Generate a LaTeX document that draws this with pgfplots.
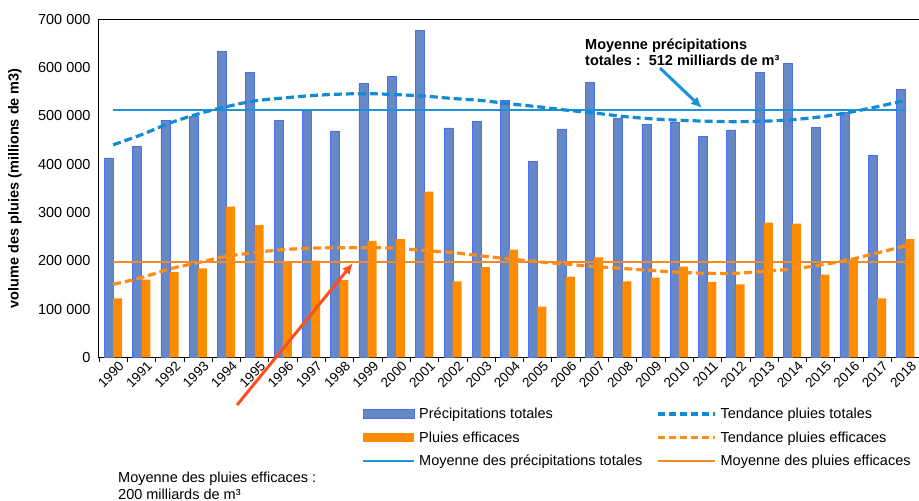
\documentclass[border=0pt]{standalone}
\usepackage{pgfplots}
\pgfplotsset{compat=1.18}
\usepackage{pgfplotstable}
\usepackage{fontspec}
\setmainfont{Liberation Sans}
\usetikzlibrary{arrows.meta}
\definecolor{barblue}{RGB}{102,136,198}
\definecolor{baredge}{RGB}{72,112,235}
\definecolor{barorange}{RGB}{255,140,0}
\definecolor{trendblue}{RGB}{18,138,212}
\definecolor{meanblue}{RGB}{28,146,216}
\definecolor{trendorange}{RGB}{255,140,20}
\definecolor{meanorange}{RGB}{242,138,40}
\definecolor{arrowred}{RGB}{250,80,30}

\pgfplotstableread{
x tot eff ttot teff
0 413000 122000 440000 151000
1 437000 161000 461000 165000
2 491000 177000 485000 183000
3 499000 184000 504000 196000
4 634000 312000 519000 209000
5 590000 274000 531000 217000
6 491000 196000 537000 223000
7 514000 200000 542000 226000
8 469000 160000 545000 227000
9 567000 241000 546000 227000
10 582000 245000 544000 226000
11 677000 343000 541000 221000
12 475000 157000 536000 217000
13 488000 187000 532000 210000
14 532000 223000 525000 204000
15 405000 105000 519000 198000
16 473000 167000 512000 193000
17 570000 207000 506000 188000
18 494000 157000 499000 184000
19 482000 165000 494000 180000
20 487000 188000 491000 176000
21 458000 156000 489000 174000
22 471000 151000 488000 174000
23 590000 279000 489000 178000
24 609000 277000 492000 183000
25 476000 171000 498000 191000
26 507000 204000 507000 202000
27 418000 122000 519000 216000
28 555000 245000 532000 231000
}\data

\begin{document}
\begin{tikzpicture}[x=1pt,y=-1pt]
\useasboundingbox (0,0) rectangle (919,501);
\begin{axis}[
  at={(99pt,-357.3pt)}, anchor=south west,
  scale only axis, width=820.6pt, height=338pt,
  xmin=-0.5, xmax=28.5, ymin=0, ymax=700000,
  xtick={0,...,28},
  xticklabels={1990,1991,1992,1993,1994,1995,1996,1997,1998,1999,2000,2001,2002,2003,2004,2005,2006,2007,2008,2009,2010,2011,2012,2013,2014,2015,2016,2017,2018},
  minor xtick={-0.5,0.5,...,28.5},
  ytick={0,100000,200000,300000,400000,500000,600000,700000},
  scaled y ticks=false,
  yticklabel style={/pgf/number format/fixed, /pgf/number format/1000 sep={\ }, /pgf/number format/assume math mode=true, xshift=-5pt},
  tick label style={font=\fontsize{14.5}{16}\selectfont},
  xticklabel style={rotate=45, anchor=north east, inner sep=0.5pt, yshift=-5pt, xshift=2pt, font=\fontsize{13.5}{15}\selectfont},
  major tick length=0pt, minor tick length=5pt,
  tick align=outside, xtick pos=bottom, ytick pos=left,
  minor tick style={black, line width=0.6pt},
  axis line style={black, line width=1pt},
  ylabel={\bfseries volume des pluies (millions de m3)},
  every axis y label/.style={at={(axis description cs:-0.1024,0.5)}, rotate=90, anchor=center, font=\fontsize{14.5}{16}\selectfont},
  legend columns=2,
  legend cell align=left,
  legend style={draw=none, fill=none, at={(axis description cs:0.3205,-0.143)}, anchor=north west,
    font=\fontsize{14.5}{16}\selectfont, row sep=7.5pt, inner sep=0pt,
    /tikz/every even column/.append style={column sep=12pt},
    /tikz/every odd column/.append style={column sep=2pt}},
]
\addplot[ybar, bar width=9pt, bar shift=-4.4pt, fill=barblue, draw=baredge, line width=0.6pt, forget plot] table[x=x,y=tot]{\data};
\addplot[ybar, bar width=9pt, bar shift=4.4pt, fill=barorange, draw=none, forget plot] table[x=x,y=eff]{\data};
\addplot[meanblue, line width=1.6pt, forget plot] coordinates {(0,512000) (28,512000)};
\addplot[meanorange, line width=1.6pt, forget plot] coordinates {(0,197000) (28,197000)};
\addplot[trendblue, line width=3.2pt, dash pattern=on 8pt off 4pt, smooth, forget plot] table[x=x,y=ttot]{\data};
\addplot[trendorange, line width=3.2pt, dash pattern=on 8pt off 4pt, smooth, forget plot] table[x=x,y=teff]{\data};

\addlegendimage{legend image code/.code={\draw[fill=barblue,draw=baredge,line width=0.6pt] (0pt,-4.5pt) rectangle (51pt,4.5pt);}}
\addlegendentry{Précipitations totales}
\addlegendimage{legend image code/.code={\draw[trendblue,line width=3.2pt,dash pattern=on 7pt off 4pt] (0pt,0pt) -- (57pt,0pt);}}
\addlegendentry{Tendance pluies totales}
\addlegendimage{legend image code/.code={\draw[fill=barorange,draw=none] (0pt,-4.5pt) rectangle (51pt,4.5pt);}}
\addlegendentry{Pluies efficaces}
\addlegendimage{legend image code/.code={\draw[trendorange,line width=3.2pt,dash pattern=on 7pt off 4pt] (0pt,0pt) -- (57pt,0pt);}}
\addlegendentry{Tendance pluies efficaces}
\addlegendimage{legend image code/.code={\draw[meanblue,line width=2pt] (0pt,0pt) -- (51pt,0pt);}}
\addlegendentry{Moyenne des précipitations totales}
\addlegendimage{legend image code/.code={\draw[meanorange,line width=2pt] (0pt,0pt) -- (57pt,0pt);}}
\addlegendentry{Moyenne des pluies efficaces}
\end{axis}

\node[anchor=base west, inner sep=0pt, font=\bfseries\fontsize{14.5}{17}\selectfont] at (585,49) {Moyenne précipitations};
\node[anchor=base west, inner sep=0pt, font=\bfseries\fontsize{14.5}{17}\selectfont] at (585,65.5) {totales :\ \ 512 milliards de m³};
\draw[meanblue, line width=3pt, -{Latex[length=11pt,width=10pt]}] (660,68) -- (702,108);

\node[anchor=base west, inner sep=0pt, font=\fontsize{14.5}{17}\selectfont] at (118,482) {Moyenne des pluies efficaces :};
\node[anchor=base west, inner sep=0pt, font=\fontsize{14.5}{17}\selectfont] at (118,499) {200 milliards de m³};
\draw[arrowred, line width=3pt, -{Latex[length=11pt,width=10pt]}] (237,405) -- (353,263);
\end{tikzpicture}
\end{document}
